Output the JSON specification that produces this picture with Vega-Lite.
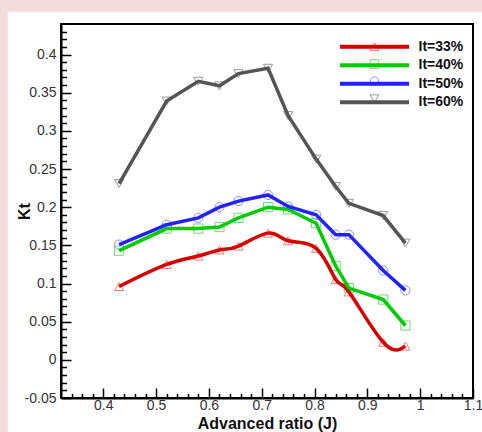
{
  "$schema": "https://vega.github.io/schema/vega-lite/v6.json",
  "autosize": {"type": "none"},
  "padding": {"left": 61, "top": 24, "right": 9, "bottom": 34},
  "width": 412,
  "height": 374,
  "background": "#f2dcdc",
  "config": {
    "view": {"stroke": null},
    "font": "Liberation Sans"
  },
  "data": {
    "values": [
      {"series": "It=33%", "J": 0.43, "Kt": 0.096},
      {"series": "It=33%", "J": 0.52, "Kt": 0.125},
      {"series": "It=33%", "J": 0.58, "Kt": 0.136},
      {"series": "It=33%", "J": 0.62, "Kt": 0.144},
      {"series": "It=33%", "J": 0.656, "Kt": 0.149},
      {"series": "It=33%", "J": 0.712, "Kt": 0.166},
      {"series": "It=33%", "J": 0.75, "Kt": 0.156},
      {"series": "It=33%", "J": 0.803, "Kt": 0.146},
      {"series": "It=33%", "J": 0.84, "Kt": 0.105},
      {"series": "It=33%", "J": 0.865, "Kt": 0.089},
      {"series": "It=33%", "J": 0.93, "Kt": 0.023},
      {"series": "It=33%", "J": 0.972, "Kt": 0.018},
      {"series": "It=40%", "J": 0.43, "Kt": 0.143},
      {"series": "It=40%", "J": 0.52, "Kt": 0.172},
      {"series": "It=40%", "J": 0.58, "Kt": 0.172},
      {"series": "It=40%", "J": 0.62, "Kt": 0.174},
      {"series": "It=40%", "J": 0.656, "Kt": 0.186},
      {"series": "It=40%", "J": 0.712, "Kt": 0.2},
      {"series": "It=40%", "J": 0.75, "Kt": 0.197},
      {"series": "It=40%", "J": 0.803, "Kt": 0.179},
      {"series": "It=40%", "J": 0.84, "Kt": 0.123},
      {"series": "It=40%", "J": 0.865, "Kt": 0.094},
      {"series": "It=40%", "J": 0.93, "Kt": 0.079},
      {"series": "It=40%", "J": 0.972, "Kt": 0.045},
      {"series": "It=50%", "J": 0.43, "Kt": 0.151},
      {"series": "It=50%", "J": 0.52, "Kt": 0.177},
      {"series": "It=50%", "J": 0.58, "Kt": 0.186},
      {"series": "It=50%", "J": 0.62, "Kt": 0.2},
      {"series": "It=50%", "J": 0.656, "Kt": 0.208},
      {"series": "It=50%", "J": 0.712, "Kt": 0.216},
      {"series": "It=50%", "J": 0.75, "Kt": 0.201},
      {"series": "It=50%", "J": 0.803, "Kt": 0.19},
      {"series": "It=50%", "J": 0.84, "Kt": 0.164},
      {"series": "It=50%", "J": 0.865, "Kt": 0.164},
      {"series": "It=50%", "J": 0.93, "Kt": 0.117},
      {"series": "It=50%", "J": 0.972, "Kt": 0.091},
      {"series": "It=60%", "J": 0.43, "Kt": 0.231},
      {"series": "It=60%", "J": 0.52, "Kt": 0.339},
      {"series": "It=60%", "J": 0.58, "Kt": 0.365},
      {"series": "It=60%", "J": 0.62, "Kt": 0.359},
      {"series": "It=60%", "J": 0.656, "Kt": 0.375},
      {"series": "It=60%", "J": 0.712, "Kt": 0.382},
      {"series": "It=60%", "J": 0.75, "Kt": 0.32},
      {"series": "It=60%", "J": 0.803, "Kt": 0.263},
      {"series": "It=60%", "J": 0.84, "Kt": 0.227},
      {"series": "It=60%", "J": 0.865, "Kt": 0.205},
      {"series": "It=60%", "J": 0.93, "Kt": 0.189},
      {"series": "It=60%", "J": 0.972, "Kt": 0.153}
    ]
  },
  "layer": [
    {
      "data": {"values": [{}]},
      "mark": {"type": "rect", "fill": "#ffffff", "clip": false},
      "encoding": {
        "x": {"datum": 0.219, "type": "quantitative", "scale": {"domain": [0.32, 1.1], "nice": false, "zero": false},
          "axis": {"orient": "bottom", "zindex": 1, "values": [0.34,0.36,0.38,0.4,0.42,0.44,0.46,0.48,0.5,0.52,0.54,0.56,0.58,0.6,0.62,0.64,0.66,0.68,0.7,0.72,0.74,0.76,0.78,0.8,0.82,0.84,0.86,0.88,0.9,0.92,0.94,0.96,0.98,1,1.02,1.04,1.06,1.08,1.1],
            "labelExpr": "abs(datum.value*10 - round(datum.value*10)) < 0.001 ? '' + datum.value : ''",
            "tickSize": {"condition": {"test": "abs(datum.value*10 - round(datum.value*10)) < 0.001", "value": -10}, "value": -4.5},
            "labelPadding": {"condition": {"test": "abs(datum.value*10 - round(datum.value*10)) < 0.001", "value": 10.5}, "value": 7.5},
            "tickColor": "#000000", "tickWidth": 1.5, "domainColor": "#000000", "domainWidth": 2,
            "labelFont": "Liberation Sans", "labelFontSize": 14, "labelColor": "#333333",
            "labelOverlap": false, "labelFlush": false, "labelBound": false, "grid": false,
            "title": "Advanced ratio (J)", "titleFont": "Liberation Sans", "titleFontSize": 16, "titleFontWeight": "bold", "titleColor": "#111111",
            "titleBaseline": "alphabetic", "titleY": 30}},
        "x2": {"datum": 1.3},
        "y": {"datum": 0.456, "type": "quantitative", "scale": {"domain": [-0.05, 0.44], "nice": false, "zero": false},
          "axis": {"orient": "left", "zindex": 1, "values": [-0.05,-0.04,-0.03,-0.02,-0.01,0,0.01,0.02,0.03,0.04,0.05,0.06,0.07,0.08,0.09,0.1,0.11,0.12,0.13,0.14,0.15,0.16,0.17,0.18,0.19,0.2,0.21,0.22,0.23,0.24,0.25,0.26,0.27,0.28,0.29,0.3,0.31,0.32,0.33,0.34,0.35,0.36,0.37,0.38,0.39,0.4,0.41,0.42,0.43],
            "labelExpr": "abs(datum.value*20 - round(datum.value*20)) < 0.001 ? '' + datum.value : ''",
            "tickSize": {"condition": {"test": "abs(datum.value*20 - round(datum.value*20)) < 0.001", "value": -10}, "value": -5.5},
            "labelPadding": {"condition": {"test": "abs(datum.value*20 - round(datum.value*20)) < 0.001", "value": 15}, "value": 10.5},
            "tickColor": "#000000", "tickWidth": 1.5, "domainColor": "#000000", "domainWidth": 2,
            "labelFont": "Liberation Sans", "labelFontSize": 14, "labelColor": "#333333",
            "labelOverlap": false, "labelFlush": false, "labelBound": false, "grid": false,
            "title": "Kt", "titleFont": "Liberation Sans", "titleFontSize": 16, "titleFontWeight": "bold", "titleColor": "#111111",
            "titleBaseline": "alphabetic", "titleX": -32}},
        "y2": {"datum": -0.2}
      }
    },
    {
      "mark": {"type": "point", "filled": false, "strokeWidth": 1, "size": 85, "opacity": 1},
      "encoding": {
        "x": {"field": "J", "type": "quantitative",
          "axis": {"orient": "bottom", "zindex": 1, "values": [0.34,0.36,0.38,0.4,0.42,0.44,0.46,0.48,0.5,0.52,0.54,0.56,0.58,0.6,0.62,0.64,0.66,0.68,0.7,0.72,0.74,0.76,0.78,0.8,0.82,0.84,0.86,0.88,0.9,0.92,0.94,0.96,0.98,1,1.02,1.04,1.06,1.08,1.1],
            "labelExpr": "abs(datum.value*10 - round(datum.value*10)) < 0.001 ? '' + datum.value : ''",
            "tickSize": {"condition": {"test": "abs(datum.value*10 - round(datum.value*10)) < 0.001", "value": -10}, "value": -4.5},
            "labelPadding": {"condition": {"test": "abs(datum.value*10 - round(datum.value*10)) < 0.001", "value": 10.5}, "value": 7.5},
            "tickColor": "#000000", "tickWidth": 1.5, "domainColor": "#000000", "domainWidth": 2,
            "labelFont": "Liberation Sans", "labelFontSize": 14, "labelColor": "#333333",
            "labelOverlap": false, "labelFlush": false, "labelBound": false, "grid": false,
            "title": "Advanced ratio (J)", "titleFont": "Liberation Sans", "titleFontSize": 16, "titleFontWeight": "bold", "titleColor": "#111111",
            "titleBaseline": "alphabetic", "titleY": 30}},
        "y": {"field": "Kt", "type": "quantitative",
          "axis": {"orient": "left", "zindex": 1, "values": [-0.05,-0.04,-0.03,-0.02,-0.01,0,0.01,0.02,0.03,0.04,0.05,0.06,0.07,0.08,0.09,0.1,0.11,0.12,0.13,0.14,0.15,0.16,0.17,0.18,0.19,0.2,0.21,0.22,0.23,0.24,0.25,0.26,0.27,0.28,0.29,0.3,0.31,0.32,0.33,0.34,0.35,0.36,0.37,0.38,0.39,0.4,0.41,0.42,0.43],
            "labelExpr": "abs(datum.value*20 - round(datum.value*20)) < 0.001 ? '' + datum.value : ''",
            "tickSize": {"condition": {"test": "abs(datum.value*20 - round(datum.value*20)) < 0.001", "value": -10}, "value": -5.5},
            "labelPadding": {"condition": {"test": "abs(datum.value*20 - round(datum.value*20)) < 0.001", "value": 15}, "value": 10.5},
            "tickColor": "#000000", "tickWidth": 1.5, "domainColor": "#000000", "domainWidth": 2,
            "labelFont": "Liberation Sans", "labelFontSize": 14, "labelColor": "#333333",
            "labelOverlap": false, "labelFlush": false, "labelBound": false, "grid": false,
            "title": "Kt", "titleFont": "Liberation Sans", "titleFontSize": 16, "titleFontWeight": "bold", "titleColor": "#111111",
            "titleBaseline": "alphabetic", "titleX": -32}},
        "stroke": {"field": "series", "type": "nominal",
          "scale": {"range": ["#f07a7a", "#6fdc6f", "#8c8cff", "#999999"]},
          "legend": {"orient": "none", "legendX": 306.5, "legendY": 15.7, "title": null, "padding": 0,
            "symbolSize": 75, "symbolStrokeWidth": 1, "labelExpr": "''", "labelFontSize": 14, "labelOffset": 0, "rowPadding": 3.3}},
        "shape": {"field": "series", "type": "nominal",
          "scale": {"range": ["triangle-up", "square", "circle", "triangle-down"]},
          "legend": {"orient": "none", "legendX": 306.5, "legendY": 15.7, "title": null, "padding": 0,
            "symbolSize": 75, "symbolStrokeWidth": 1, "labelExpr": "''", "labelFontSize": 14, "labelOffset": 0, "rowPadding": 3.3}}
      }
    },
    {
      "transform": [{"filter": "datum.series === 'It=33%'"}],
      "mark": {"type": "line", "strokeWidth": 3.5, "interpolate": "natural"},
      "encoding": {
        "x": {"field": "J", "type": "quantitative",
          "axis": {"orient": "bottom", "zindex": 1, "values": [0.34,0.36,0.38,0.4,0.42,0.44,0.46,0.48,0.5,0.52,0.54,0.56,0.58,0.6,0.62,0.64,0.66,0.68,0.7,0.72,0.74,0.76,0.78,0.8,0.82,0.84,0.86,0.88,0.9,0.92,0.94,0.96,0.98,1,1.02,1.04,1.06,1.08,1.1],
            "labelExpr": "abs(datum.value*10 - round(datum.value*10)) < 0.001 ? '' + datum.value : ''",
            "tickSize": {"condition": {"test": "abs(datum.value*10 - round(datum.value*10)) < 0.001", "value": -10}, "value": -4.5},
            "labelPadding": {"condition": {"test": "abs(datum.value*10 - round(datum.value*10)) < 0.001", "value": 10.5}, "value": 7.5},
            "tickColor": "#000000", "tickWidth": 1.5, "domainColor": "#000000", "domainWidth": 2,
            "labelFont": "Liberation Sans", "labelFontSize": 14, "labelColor": "#333333",
            "labelOverlap": false, "labelFlush": false, "labelBound": false, "grid": false,
            "title": "Advanced ratio (J)", "titleFont": "Liberation Sans", "titleFontSize": 16, "titleFontWeight": "bold", "titleColor": "#111111",
            "titleBaseline": "alphabetic", "titleY": 30}},
        "y": {"field": "Kt", "type": "quantitative",
          "axis": {"orient": "left", "zindex": 1, "values": [-0.05,-0.04,-0.03,-0.02,-0.01,0,0.01,0.02,0.03,0.04,0.05,0.06,0.07,0.08,0.09,0.1,0.11,0.12,0.13,0.14,0.15,0.16,0.17,0.18,0.19,0.2,0.21,0.22,0.23,0.24,0.25,0.26,0.27,0.28,0.29,0.3,0.31,0.32,0.33,0.34,0.35,0.36,0.37,0.38,0.39,0.4,0.41,0.42,0.43],
            "labelExpr": "abs(datum.value*20 - round(datum.value*20)) < 0.001 ? '' + datum.value : ''",
            "tickSize": {"condition": {"test": "abs(datum.value*20 - round(datum.value*20)) < 0.001", "value": -10}, "value": -5.5},
            "labelPadding": {"condition": {"test": "abs(datum.value*20 - round(datum.value*20)) < 0.001", "value": 15}, "value": 10.5},
            "tickColor": "#000000", "tickWidth": 1.5, "domainColor": "#000000", "domainWidth": 2,
            "labelFont": "Liberation Sans", "labelFontSize": 14, "labelColor": "#333333",
            "labelOverlap": false, "labelFlush": false, "labelBound": false, "grid": false,
            "title": "Kt", "titleFont": "Liberation Sans", "titleFontSize": 16, "titleFontWeight": "bold", "titleColor": "#111111",
            "titleBaseline": "alphabetic", "titleX": -32}},
        "color": {"field": "series", "type": "nominal",
          "scale": {"domain": ["It=33%", "It=40%", "It=50%", "It=60%"], "range": ["#d40000", "#00cc00", "#2222ff", "#555555"]},
          "legend": {"orient": "none", "legendX": 306.5, "legendY": 15.7, "title": null, "padding": 0,
            "symbolType": "M-7.97,0H7.97", "symbolSize": 75, "symbolStrokeWidth": 4, "labelFont": "Liberation Sans", "labelFontSize": 14,
            "labelFontWeight": "bold", "labelColor": "#111111", "labelOffset": 37, "rowPadding": 2.5}}
      }
    },
    {
      "transform": [{"filter": "datum.series !== 'It=33%'"}],
      "mark": {"type": "line", "strokeWidth": 3.5, "interpolate": "linear"},
      "encoding": {
        "x": {"field": "J", "type": "quantitative",
          "axis": {"orient": "bottom", "zindex": 1, "values": [0.34,0.36,0.38,0.4,0.42,0.44,0.46,0.48,0.5,0.52,0.54,0.56,0.58,0.6,0.62,0.64,0.66,0.68,0.7,0.72,0.74,0.76,0.78,0.8,0.82,0.84,0.86,0.88,0.9,0.92,0.94,0.96,0.98,1,1.02,1.04,1.06,1.08,1.1],
            "labelExpr": "abs(datum.value*10 - round(datum.value*10)) < 0.001 ? '' + datum.value : ''",
            "tickSize": {"condition": {"test": "abs(datum.value*10 - round(datum.value*10)) < 0.001", "value": -10}, "value": -4.5},
            "labelPadding": {"condition": {"test": "abs(datum.value*10 - round(datum.value*10)) < 0.001", "value": 10.5}, "value": 7.5},
            "tickColor": "#000000", "tickWidth": 1.5, "domainColor": "#000000", "domainWidth": 2,
            "labelFont": "Liberation Sans", "labelFontSize": 14, "labelColor": "#333333",
            "labelOverlap": false, "labelFlush": false, "labelBound": false, "grid": false,
            "title": "Advanced ratio (J)", "titleFont": "Liberation Sans", "titleFontSize": 16, "titleFontWeight": "bold", "titleColor": "#111111",
            "titleBaseline": "alphabetic", "titleY": 30}},
        "y": {"field": "Kt", "type": "quantitative",
          "axis": {"orient": "left", "zindex": 1, "values": [-0.05,-0.04,-0.03,-0.02,-0.01,0,0.01,0.02,0.03,0.04,0.05,0.06,0.07,0.08,0.09,0.1,0.11,0.12,0.13,0.14,0.15,0.16,0.17,0.18,0.19,0.2,0.21,0.22,0.23,0.24,0.25,0.26,0.27,0.28,0.29,0.3,0.31,0.32,0.33,0.34,0.35,0.36,0.37,0.38,0.39,0.4,0.41,0.42,0.43],
            "labelExpr": "abs(datum.value*20 - round(datum.value*20)) < 0.001 ? '' + datum.value : ''",
            "tickSize": {"condition": {"test": "abs(datum.value*20 - round(datum.value*20)) < 0.001", "value": -10}, "value": -5.5},
            "labelPadding": {"condition": {"test": "abs(datum.value*20 - round(datum.value*20)) < 0.001", "value": 15}, "value": 10.5},
            "tickColor": "#000000", "tickWidth": 1.5, "domainColor": "#000000", "domainWidth": 2,
            "labelFont": "Liberation Sans", "labelFontSize": 14, "labelColor": "#333333",
            "labelOverlap": false, "labelFlush": false, "labelBound": false, "grid": false,
            "title": "Kt", "titleFont": "Liberation Sans", "titleFontSize": 16, "titleFontWeight": "bold", "titleColor": "#111111",
            "titleBaseline": "alphabetic", "titleX": -32}},
        "color": {"field": "series", "type": "nominal",
          "scale": {"domain": ["It=33%", "It=40%", "It=50%", "It=60%"], "range": ["#d40000", "#00cc00", "#2222ff", "#555555"]},
          "legend": {"orient": "none", "legendX": 306.5, "legendY": 15.7, "title": null, "padding": 0,
            "symbolType": "M-7.97,0H7.97", "symbolSize": 75, "symbolStrokeWidth": 4, "labelFont": "Liberation Sans", "labelFontSize": 14,
            "labelFontWeight": "bold", "labelColor": "#111111", "labelOffset": 37, "rowPadding": 2.5}}
      }
    },
    {
      "data": {"values": [{}]},
      "mark": {"type": "rect", "fill": null, "stroke": "#000000", "strokeWidth": 2, "clip": false},
      "encoding": {
        "x": {"datum": 0.32, "type": "quantitative",
          "axis": {"orient": "bottom", "zindex": 1, "values": [0.34,0.36,0.38,0.4,0.42,0.44,0.46,0.48,0.5,0.52,0.54,0.56,0.58,0.6,0.62,0.64,0.66,0.68,0.7,0.72,0.74,0.76,0.78,0.8,0.82,0.84,0.86,0.88,0.9,0.92,0.94,0.96,0.98,1,1.02,1.04,1.06,1.08,1.1],
            "labelExpr": "abs(datum.value*10 - round(datum.value*10)) < 0.001 ? '' + datum.value : ''",
            "tickSize": {"condition": {"test": "abs(datum.value*10 - round(datum.value*10)) < 0.001", "value": -10}, "value": -4.5},
            "labelPadding": {"condition": {"test": "abs(datum.value*10 - round(datum.value*10)) < 0.001", "value": 10.5}, "value": 7.5},
            "tickColor": "#000000", "tickWidth": 1.5, "domainColor": "#000000", "domainWidth": 2,
            "labelFont": "Liberation Sans", "labelFontSize": 14, "labelColor": "#333333",
            "labelOverlap": false, "labelFlush": false, "labelBound": false, "grid": false,
            "title": "Advanced ratio (J)", "titleFont": "Liberation Sans", "titleFontSize": 16, "titleFontWeight": "bold", "titleColor": "#111111",
            "titleBaseline": "alphabetic", "titleY": 30}},
        "x2": {"datum": 1.1},
        "y": {"datum": -0.05, "type": "quantitative",
          "axis": {"orient": "left", "zindex": 1, "values": [-0.05,-0.04,-0.03,-0.02,-0.01,0,0.01,0.02,0.03,0.04,0.05,0.06,0.07,0.08,0.09,0.1,0.11,0.12,0.13,0.14,0.15,0.16,0.17,0.18,0.19,0.2,0.21,0.22,0.23,0.24,0.25,0.26,0.27,0.28,0.29,0.3,0.31,0.32,0.33,0.34,0.35,0.36,0.37,0.38,0.39,0.4,0.41,0.42,0.43],
            "labelExpr": "abs(datum.value*20 - round(datum.value*20)) < 0.001 ? '' + datum.value : ''",
            "tickSize": {"condition": {"test": "abs(datum.value*20 - round(datum.value*20)) < 0.001", "value": -10}, "value": -5.5},
            "labelPadding": {"condition": {"test": "abs(datum.value*20 - round(datum.value*20)) < 0.001", "value": 15}, "value": 10.5},
            "tickColor": "#000000", "tickWidth": 1.5, "domainColor": "#000000", "domainWidth": 2,
            "labelFont": "Liberation Sans", "labelFontSize": 14, "labelColor": "#333333",
            "labelOverlap": false, "labelFlush": false, "labelBound": false, "grid": false,
            "title": "Kt", "titleFont": "Liberation Sans", "titleFontSize": 16, "titleFontWeight": "bold", "titleColor": "#111111",
            "titleBaseline": "alphabetic", "titleX": -32}},
        "y2": {"datum": 0.44}
      }
    }
  ]
}
